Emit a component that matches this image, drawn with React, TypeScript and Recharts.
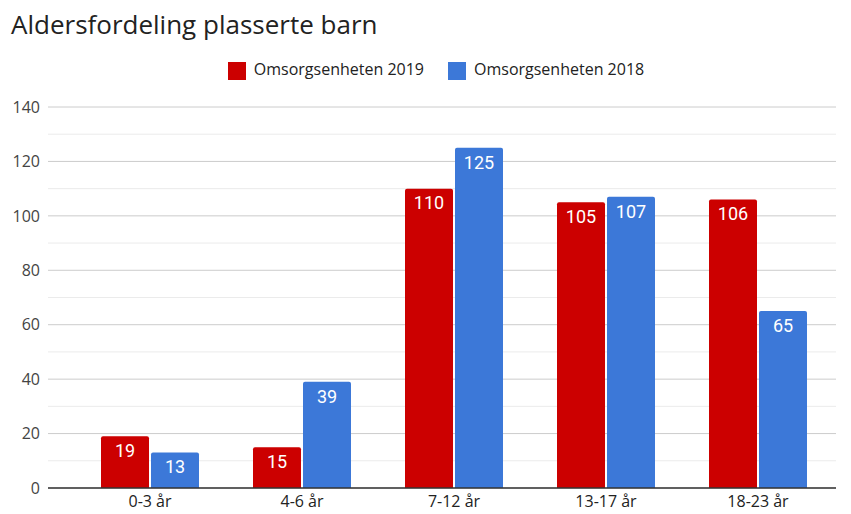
import { BarChart, Bar, XAxis, YAxis, CartesianGrid, Legend, LabelList } from 'recharts';

const categories = ['0-3 år', '4-6 år', '7-12 år', '13-17 år', '18-23 år'];
const values2019 = [19, 15, 110, 105, 106];
const values2018 = [13, 39, 125, 107, 65];
const yTicks = [0, 20, 40, 60, 80, 100, 120, 140];
const minorTicks = [10, 30, 50, 70, 90, 110, 130];

const data = categories.map((age, i) => ({
    age,
    y2019: values2019[i],
    y2018: values2018[i],
}));

const font = '"Open Sans", sans-serif';

export default function App() {
    return (
        <div style={{ position: 'absolute', left: 0, top: 0, width: 851, height: 514, background: '#fff' }}>
            <div
                style={{
                    position: 'absolute',
                    left: 11,
                    top: 6,
                    fontFamily: font,
                    fontSize: 26,
                    color: '#222',
                    whiteSpace: 'nowrap',
                }}
            >
                Aldersfordeling plasserte barn
            </div>
            <BarChart
                width={851}
                height={514}
                data={data}
                margin={{ top: 60, right: 15, bottom: 4, left: 0 }}
                barSize={48}
                barGap={2}
            >
                <CartesianGrid
                    vertical={false}
                    horizontalValues={minorTicks}
                    stroke="#ebebeb"
                    strokeWidth={1}
                />
                <CartesianGrid
                    vertical={false}
                    horizontalValues={yTicks}
                    stroke="#cccccc"
                    strokeWidth={1}
                />
                <XAxis
                    dataKey="age"
                    height={22}
                    padding={{ left: 26, right: 2 }}
                    tickLine={false}
                    axisLine={{ stroke: '#333', strokeWidth: 1.5 }}
                    tick={{ fontSize: 16, fill: '#222', fontFamily: font }}
                />
                <YAxis
                    width={48}
                    domain={[0, 140]}
                    ticks={yTicks}
                    axisLine={false}
                    tickLine={false}
                    tick={{ fontSize: 16, fill: '#444', fontFamily: font }}
                />
                <Legend
                    verticalAlign="top"
                    align="center"
                    iconType="square"
                    iconSize={18}
                    height={47}
                    itemSorter={null}
                    wrapperStyle={{ fontFamily: font, fontSize: 16, top: 58, left: 30 }}
                    formatter={(value) => <span style={{ color: '#222', marginLeft: 4, marginRight: 14 }}>{value}</span>}
                />
                <Bar dataKey="y2019" name="Omsorgsenheten 2019" fill="#cc0000" radius={[2, 2, 0, 0]} isAnimationActive={false}>
                    <LabelList dataKey="y2019" position="insideTop" offset={8} fill="#fff" fontSize={18} fontFamily="Roboto" fontWeight={400} />
                </Bar>
                <Bar dataKey="y2018" name="Omsorgsenheten 2018" fill="#3c78d8" radius={[2, 2, 0, 0]} isAnimationActive={false}>
                    <LabelList dataKey="y2018" position="insideTop" offset={8} fill="#fff" fontSize={18} fontFamily="Roboto" fontWeight={400} />
                </Bar>
            </BarChart>
        </div>
    );
}
